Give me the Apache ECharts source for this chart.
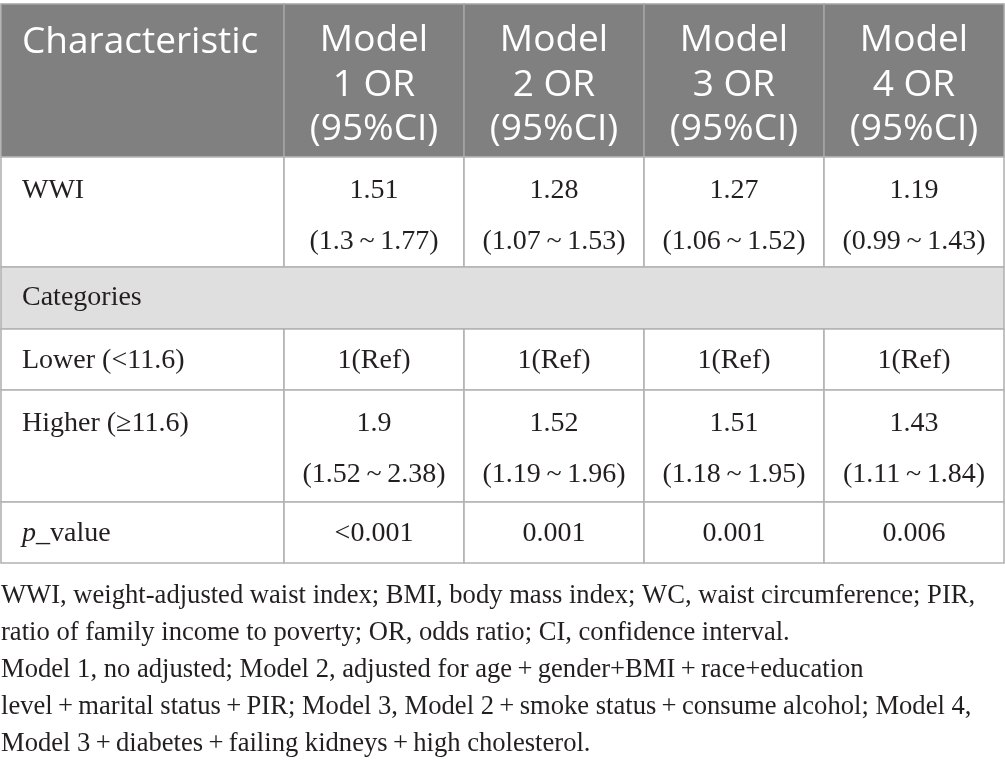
<!DOCTYPE html>
<html>
<head>
<meta charset="utf-8">
<script src="https://cdn.jsdelivr.net/npm/echarts@6/dist/echarts.min.js"></script>
<style>
  html,body{margin:0;padding:0;background:#fff;}
  #chart{width:1005px;height:765px;}
</style>
</head>
<body>
<div id="chart"></div>
<script>
var T = '\u2009';
var headerLabels = ['Characteristic', 'Model\n1 OR\n(95%CI)', 'Model\n2 OR\n(95%CI)', 'Model\n3 OR\n(95%CI)', 'Model\n4 OR\n(95%CI)'];
var rowLabels = ['WWI', 'Categories', 'Lower (<11.6)', 'Higher (\u226511.6)', '{i|p}_value'];
var wwiOR = ['1.51', '1.28', '1.27', '1.19'];
var wwiCI = ['(1.3' + T + '~' + T + '1.77)', '(1.07' + T + '~' + T + '1.53)', '(1.06' + T + '~' + T + '1.52)', '(0.99' + T + '~' + T + '1.43)'];
var lowerOR = ['1(Ref)', '1(Ref)', '1(Ref)', '1(Ref)'];
var higherOR = ['1.9', '1.52', '1.51', '1.43'];
var higherCI = ['(1.52' + T + '~' + T + '2.38)', '(1.19' + T + '~' + T + '1.96)', '(1.18' + T + '~' + T + '1.95)', '(1.11' + T + '~' + T + '1.84)'];
var pValues = ['<0.001', '0.001', '0.001', '0.006'];
var P = T + '+' + T;
var footnote = [
    'WWI, weight-adjusted waist index; BMI, body mass index; WC, waist circumference; PIR,',
    'ratio of family income to poverty; OR, odds ratio; CI, confidence interval.',
    'Model 1, no adjusted; Model 2, adjusted for age' + P + 'gender+BMI' + P + 'race+education',
    'level' + P + 'marital status' + P + 'PIR; Model 3, Model 2' + P + 'smoke status' + P + 'consume alcohol; Model 4,',
    'Model 3' + P + 'diabetes' + P + 'failing kidneys' + P + 'high cholesterol.'
];

// table grid (in axis units)
var colEdges = [1, 284, 464, 644, 824, 1004];
var rowEdges = [4, 157, 267, 329, 390, 502, 563];

var serif = '"Liberation Serif", "Times New Roman", serif';
var sans = '"Open Sans", Lato, sans-serif';

// cells: [colStart, colEnd, row], plus text / kind
var cells = [];
headerLabels.forEach(function (h, i) {
    cells.push({value: [i, i + 1, 0], text: h, kind: i == 0 ? 'headLeft' : 'head'});
});
var bodyRows = [
    {row: 1, label: rowLabels[0], lines: [wwiOR, wwiCI]},
    {row: 2, label: rowLabels[1], span: true},
    {row: 3, label: rowLabels[2], lines: [lowerOR]},
    {row: 4, label: rowLabels[3], lines: [higherOR, higherCI]},
    {row: 5, label: rowLabels[4], lines: [pValues]}
];
bodyRows.forEach(function (b) {
    if (b.span) {
        cells.push({value: [0, 5, b.row], text: b.label, kind: 'span'});
        return;
    }
    cells.push({value: [0, 1, b.row], text: b.label, kind: 'label', n: b.lines.length});
    for (var c = 0; c < 4; c++) {
        var t = b.lines.map(function (arr) { return arr[c]; }).join('\n');
        cells.push({value: [c + 1, c + 2, b.row], text: t, kind: 'val', n: b.lines.length});
    }
});

function renderCell(params, api) {
    var cell = cells[params.dataIndex];
    var c0 = api.value(0), c1 = api.value(1), r = api.value(2);
    var tl = api.coord([colEdges[c0], rowEdges[r]]);
    var br = api.coord([colEdges[c1], rowEdges[r + 1]]);
    var w = br[0] - tl[0], h = br[1] - tl[1];
    var isHead = cell.kind == 'head' || cell.kind == 'headLeft';
    var bg = isHead ? '#808080' : (cell.kind == 'span' ? '#e0dfe0' : '#ffffff');
    var ts;
    if (cell.kind == 'headLeft') {
        ts = {x: tl[0] + 21, y: tl[1] + 38, align: 'left', verticalAlign: 'middle'};
    } else if (cell.kind == 'head') {
        ts = {x: tl[0] + w / 2, y: tl[1] + 81, align: 'center', verticalAlign: 'middle', lineHeight: 44.5};
    } else if (cell.kind == 'label') {
        ts = {x: tl[0] + 21, y: cell.n > 1 ? tl[1] + 34 : tl[1] + h / 2 + 1, align: 'left', verticalAlign: 'middle'};
    } else if (cell.kind == 'span') {
        ts = {x: tl[0] + 21, y: tl[1] + h / 2, align: 'left', verticalAlign: 'middle'};
    } else {
        ts = {x: tl[0] + w / 2, y: cell.n > 1 ? tl[1] + 34 + 25.5 : tl[1] + h / 2 + 1, align: 'center', verticalAlign: 'middle', lineHeight: 51};
    }
    ts.text = cell.text;
    ts.fill = isHead ? '#ffffff' : '#231f20';
    ts.fontFamily = isHead ? sans : serif;
    ts.fontSize = isHead ? 37 : 28;
    ts.rich = {i: {fontStyle: 'italic', fontFamily: serif, fontSize: 28, fill: '#231f20'}};
    return {
        type: 'group',
        children: [
            {type: 'rect', shape: {x: tl[0], y: tl[1], width: w, height: h},
             style: {fill: bg, stroke: isHead ? '#a4a4a4' : '#b2b2b2', lineWidth: 1.6}},
            {type: 'text', style: ts}
        ]
    };
}

var myChart = echarts.init(document.getElementById('chart'));
var option = {
    animation: false,
    backgroundColor: '#ffffff',
    title: {
        text: footnote.join('\n'),
        left: 1,
        top: 578,
        padding: 0,
        textStyle: {fontFamily: serif, fontSize: 26.6, fontWeight: 'normal', lineHeight: 37, color: '#231f20'}
    },
    grid: {left: 0, right: 0, top: 0, bottom: 0},
    xAxis: {type: 'value', min: 0, max: 1005, show: false},
    yAxis: {type: 'value', min: 0, max: 765, inverse: true, show: false},
    series: [{
        type: 'custom',
        renderItem: renderCell,
        data: cells.map(function (c) { return c.value; })
    }]
};
myChart.setOption(option);
</script>
</body>
</html>
